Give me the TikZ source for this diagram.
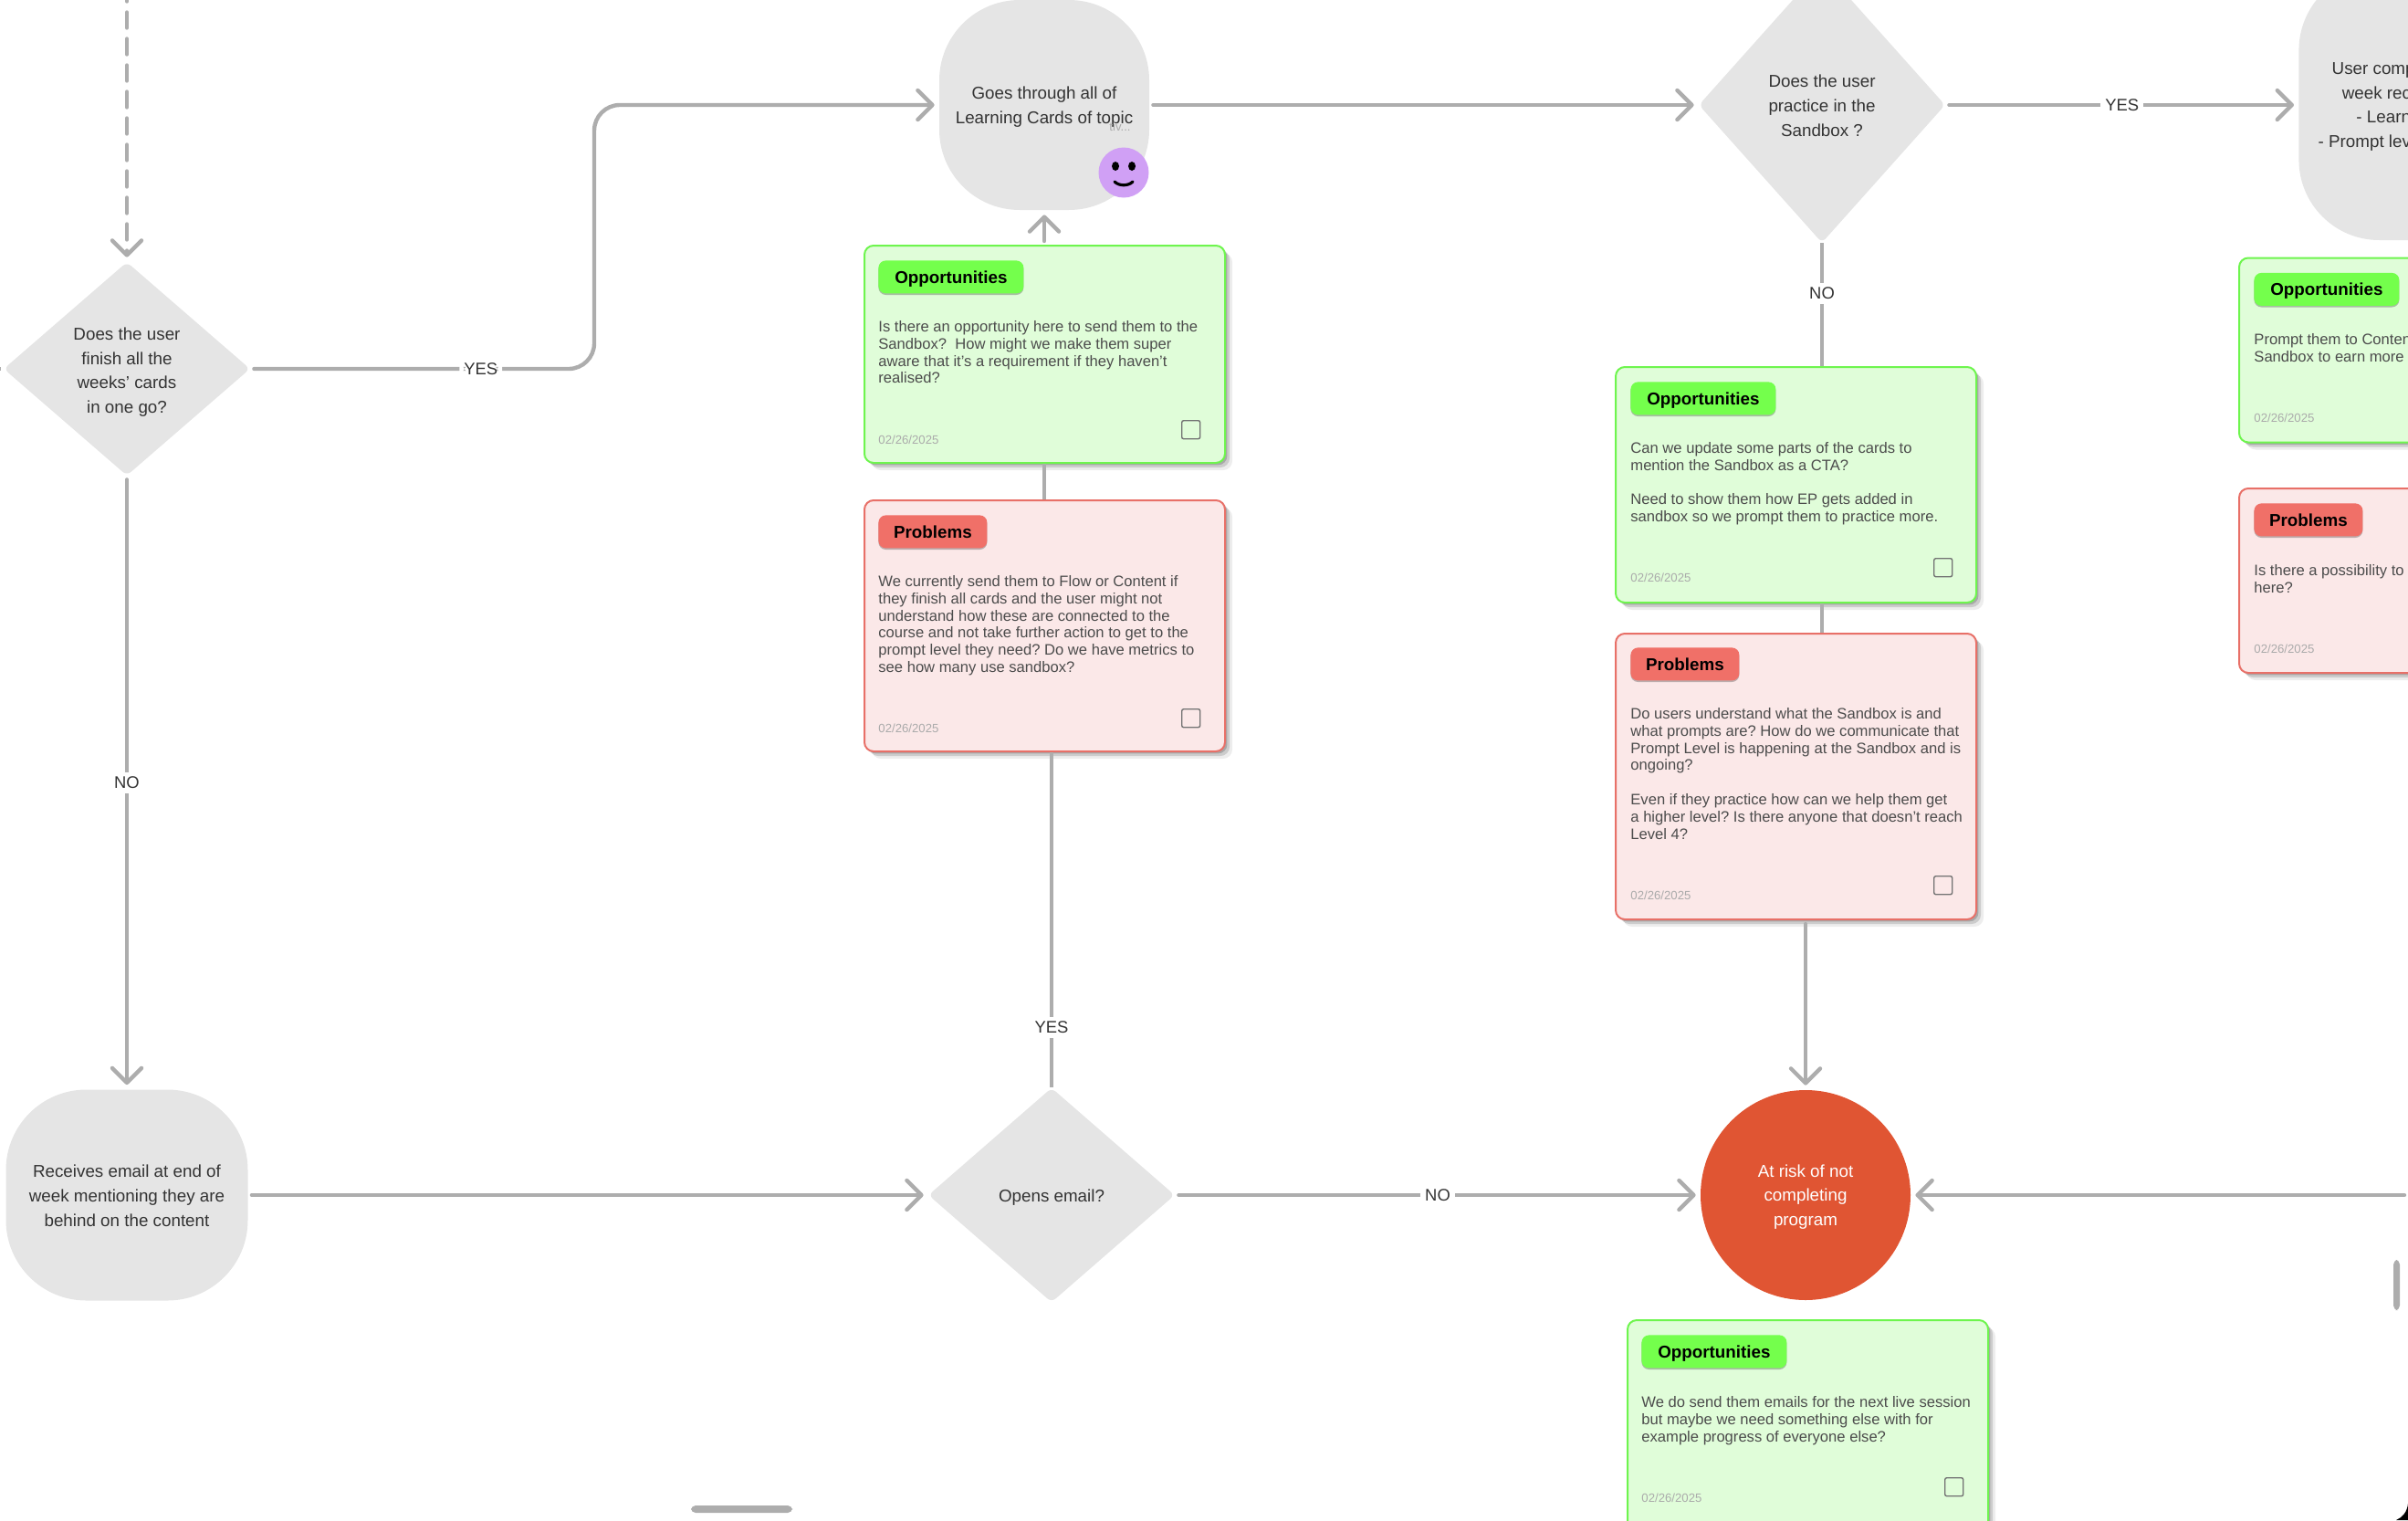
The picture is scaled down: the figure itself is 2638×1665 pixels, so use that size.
\documentclass[tikz,border=0pt]{standalone}
\usepackage{fontspec}
\setmainfont{Liberation Sans}
\usetikzlibrary{arrows.meta,shapes.geometric,shadows}

\definecolor{flowgray}{HTML}{ADADAD}
\definecolor{shapegray}{HTML}{E5E5E5}
\definecolor{flowtext}{HTML}{333333}
\definecolor{cardtext}{HTML}{4C4C4C}
\definecolor{dategray}{HTML}{ABABAB}
\definecolor{oppline}{HTML}{6EF54E}
\definecolor{oppfill}{HTML}{E0FDD9}
\definecolor{opptag}{HTML}{74FF4C}
\definecolor{probline}{HTML}{E87068}
\definecolor{probfill}{HTML}{FBE8E8}
\definecolor{probtag}{HTML}{F07068}
\definecolor{riskred}{HTML}{E05533}
\definecolor{smilepurple}{HTML}{D0A0F5}

\tikzset{
  flow/.style={draw=flowgray,line width=2.2pt,line cap=round,shorten <=2pt,shorten >=2.5pt,
    -{Straight Barb[length=8pt,width=16pt,round]}},
  plainflow/.style={draw=flowgray,line width=2.2pt},
  flowlabel/.style={fill=white,text=flowtext,font=\fontsize{9.2}{11}\selectfont,inner sep=2.5pt},
  flowtitle/.style={text=flowtext,font=\fontsize{9.4}{13.3}\selectfont,align=center,inner sep=0pt,yshift=-1pt},
  blob/.style={fill=shapegray,rounded corners=44pt,inner sep=0pt},
  decision/.style={diamond,fill=shapegray,rounded corners=3pt,inner sep=0pt},
  card/.style={rectangle,rounded corners=5pt,line width=1pt,minimum width=197.5pt,anchor=north west,
    drop shadow={shadow xshift=4pt,shadow yshift=-4pt,opacity=.07,fill=black},
    drop shadow={shadow xshift=2.5pt,shadow yshift=-2.5pt,opacity=.14,fill=black},
    drop shadow={shadow xshift=1.2pt,shadow yshift=-1.2pt,opacity=.18,fill=black}},
  oppcard/.style={card,draw=oppline,fill=oppfill},
  probcard/.style={card,draw=probline,fill=probfill},
  tag/.style={rectangle,rounded corners=4pt,minimum height=18pt,anchor=north west,text=black,inner sep=0pt,
    text height=7pt,text depth=0pt,font=\bfseries\fontsize{9.4}{10}\selectfont,
    drop shadow={shadow xshift=0pt,shadow yshift=-.8pt,opacity=.25,fill=black}},
  opptagbox/.style={tag,fill=opptag,minimum width=79.5pt},
  probtagbox/.style={tag,fill=probtag,minimum width=59.5pt},
  cardbody/.style={anchor=north west,inner sep=0pt,align=left,text=cardtext,font=\frenchspacing\fontsize{8.3}{9.4}\selectfont},
  carddate/.style={anchor=south west,inner sep=0pt,text=dategray,font=\fontsize{6.6}{8}\selectfont},
  tickbox/.style={rectangle,draw=black!55,line width=.7pt,rounded corners=1pt,minimum size=10pt,inner sep=0pt,anchor=north west}
}

\begin{document}
\begin{tikzpicture}[x=0.5pt,y=-0.5pt]
\path[use as bounding box] (0,0) rectangle (2638,1665);
\clip (0,0) rectangle (2638,1665);

\coordinate (topdash) at (139,-19.5);
\coordinate (offleft) at (-8,404);
\coordinate (leftstub) at (1,404);
\coordinate (bendyes) at (651,404);
\coordinate (offright) at (2638,1309);

\node[decision,minimum width=135pt,minimum height=117pt] (finish) at (139,404) {};
\node[flowtitle,yshift=-.8pt] (finishtext) at (139,404) {Does the user\\finish all the\\weeks' cards\\in one go?};
\node[blob,minimum width=115pt,minimum height=115pt] (topic) at (1144,115) {};
\node[flowtitle] (topictext) at (1144,115) {Goes through all of\\Learning Cards of topic};
\node[decision,minimum width=135pt,minimum height=151pt] (practice) at (1996,115) {};
\node[flowtitle,yshift=.6pt] (practicetext) at (1996,115) {Does the user\\practice in the\\Sandbox ?};
\node[blob,minimum width=150pt,minimum height=148pt,anchor=west] (complete) at (2518,115) {};
\node[flowtitle,anchor=east,align=right] (completetext) at (2641.4,115) {User comp\hspace*{-2.3pt}\\week rec\hspace*{3.4pt}\\- Learn\hspace*{-4.8pt}\\- Prompt lev};
\node[blob,minimum width=132.5pt,minimum height=115.5pt] (behind) at (139,1309) {};
\node[flowtitle,yshift=.6pt] (behindtext) at (139,1309) {Receives email at end of\\week mentioning they are\\behind on the content};
\node[decision,minimum width=135pt,minimum height=117.5pt] (email) at (1152,1309) {};
\node[flowtitle,yshift=-.5pt] (emailtext) at (1152,1309) {Opens email?};
\node[circle,fill=riskred,minimum size=115pt,inner sep=0pt] (risk) at (1978,1309) {};
\node[flowtitle,text=white] (risktext) at (1978,1309) {At risk of not\\completing\\program};

\node[text=dategray,font=\fontsize{6.6}{8}\selectfont,inner sep=0pt] (topicmore) at (1227,139) {tiv...};
\node[circle,fill=smilepurple,minimum size=27.5pt,inner sep=0pt] (smile) at (1231,189) {};
\fill[black] (1222,182) ellipse (4 and 5);
\fill[black] (1240,182) ellipse (4 and 5);
\draw[black,line width=1.6pt,line cap=round] (1221,199) .. controls (1226,204) and (1236,204) .. (1241,199);

\draw[flow,dash pattern=on 8.5pt off 6pt] (topdash) -- (finish);
\draw[plainflow] (offleft) -- (leftstub);
\draw[flow,rounded corners=14pt] (finish) -- node[flowlabel,pos=.67] (yesfinish) {YES} (bendyes) |- (topic);
\draw[flow] (finish) -- node[flowlabel,pos=.5] (nofinish) {NO} (behind);
\draw[flow] (topic) -- (practice);
\draw[flow] (practice) -- node[flowlabel,pos=.5] (yespractice) {YES} (complete);
\draw[flow] (behind) -- (email);
\draw[flow] (email) -- node[flowlabel,pos=.5] (noemail) {NO} (risk);
\draw[flow] (offright) -- (risk);

\node[oppcard,minimum height=119pt] (oppa) at (946,268) {};
\node[opptagbox] (oppatag) at (962,285) {Opportunities};
\node[cardbody] (oppatext) at (962,351) {Is there an opportunity here to send them to the\\Sandbox?\ \ How might we make them super\\aware that it's a requirement if they haven't\\realised?};
\node[carddate] (oppadate) at (962,487) {02/26/2025};
\node[tickbox] (oppabox) at (1294,460) {};

\node[probcard,minimum height=137.5pt] (proba) at (946,547) {};
\node[probtagbox] (probatag) at (962,564) {Problems};
\node[cardbody] (probatext) at (962,630) {We currently send them to Flow or Content if\\they finish all cards and the user might not\\understand how these are connected to the\\course and not take further action to get to the\\prompt level they need? Do we have metrics to\\see how many use sandbox?};
\node[carddate] (probadate) at (962,803) {02/26/2025};
\node[tickbox] (probabox) at (1294,776) {};

\node[oppcard,minimum height=129pt] (oppb) at (1769,401) {};
\node[opptagbox] (oppbtag) at (1786,418) {Opportunities};
\node[cardbody] (oppbtext) at (1786,484) {Can we update some parts of the cards to\\mention the Sandbox as a CTA?\\[9.4pt]Need to show them how EP gets added in\\sandbox so we prompt them to practice more.};
\node[carddate] (oppbdate) at (1786,638) {02/26/2025};
\node[tickbox] (oppbbox) at (2118,611) {};

\node[probcard,minimum height=156.5pt] (probb) at (1769,693) {};
\node[probtagbox] (probbtag) at (1786,709) {Problems};
\node[cardbody] (probbtext) at (1786,775) {Do users understand what the Sandbox is and\\what prompts are? How do we communicate that\\Prompt Level is happening at the Sandbox and is\\ongoing?\\[9.4pt]Even if they practice how can we help them get\\a higher level? Is there anyone that doesn't reach\\Level 4?};
\node[carddate] (probbdate) at (1786,986) {02/26/2025};
\node[tickbox] (probbbox) at (2118,959) {};

\node[oppcard,minimum height=119pt] (oppc) at (1782,1445) {};
\node[opptagbox] (oppctag) at (1798,1462) {Opportunities};
\node[cardbody] (oppctext) at (1798,1529) {We do send them emails for the next live session\\but maybe we need something else with for\\example progress of everyone else?};
\node[carddate] (oppcdate) at (1798,1646) {02/26/2025};
\node[tickbox] (oppcbox) at (2130,1618) {};

\node[oppcard,minimum height=101pt] (oppd) at (2452,281.5) {};
\node[opptagbox] (oppdtag) at (2469,298.5) {Opportunities};
\node[cardbody] (oppdtext) at (2469,365) {Prompt them to Conten\\Sandbox to earn more p};
\node[carddate] (oppddate) at (2469,463) {02/26/2025};

\node[probcard,minimum height=101pt] (probc) at (2452,534) {};
\node[probtagbox] (probctag) at (2469,551) {Problems};
\node[cardbody] (probctext) at (2469,618) {Is there a possibility to\\here?};
\node[carddate] (probcdate) at (2469,716) {02/26/2025};

\draw[flow] (oppa.north -| topic) -- (topic.south);
\draw[plainflow] (oppa.south -| topic) -- (proba.north -| topic);
\draw[plainflow] (email.north) -- node[flowlabel,pos=.18] (yesemail) {YES} (proba.south -| email);
\draw[plainflow] (practice.south) -- node[flowlabel,pos=.41] (nopractice) {NO} (oppb.north -| practice);
\draw[plainflow] (oppb.south -| practice) -- (probb.north -| practice);
\draw[flow] (probb.south -| risk) -- (risk.north);

\fill[flowgray,rounded corners=2.5pt] (757,1649) rectangle (868,1657);
\fill[flowgray,rounded corners=2.5pt] (2622,1380) rectangle (2629,1435);
\fill[black] (2638,1647) .. controls (2637,1656) and (2632,1662) .. (2625,1665) -- (2638,1665) -- cycle;
\end{tikzpicture}
\end{document}
